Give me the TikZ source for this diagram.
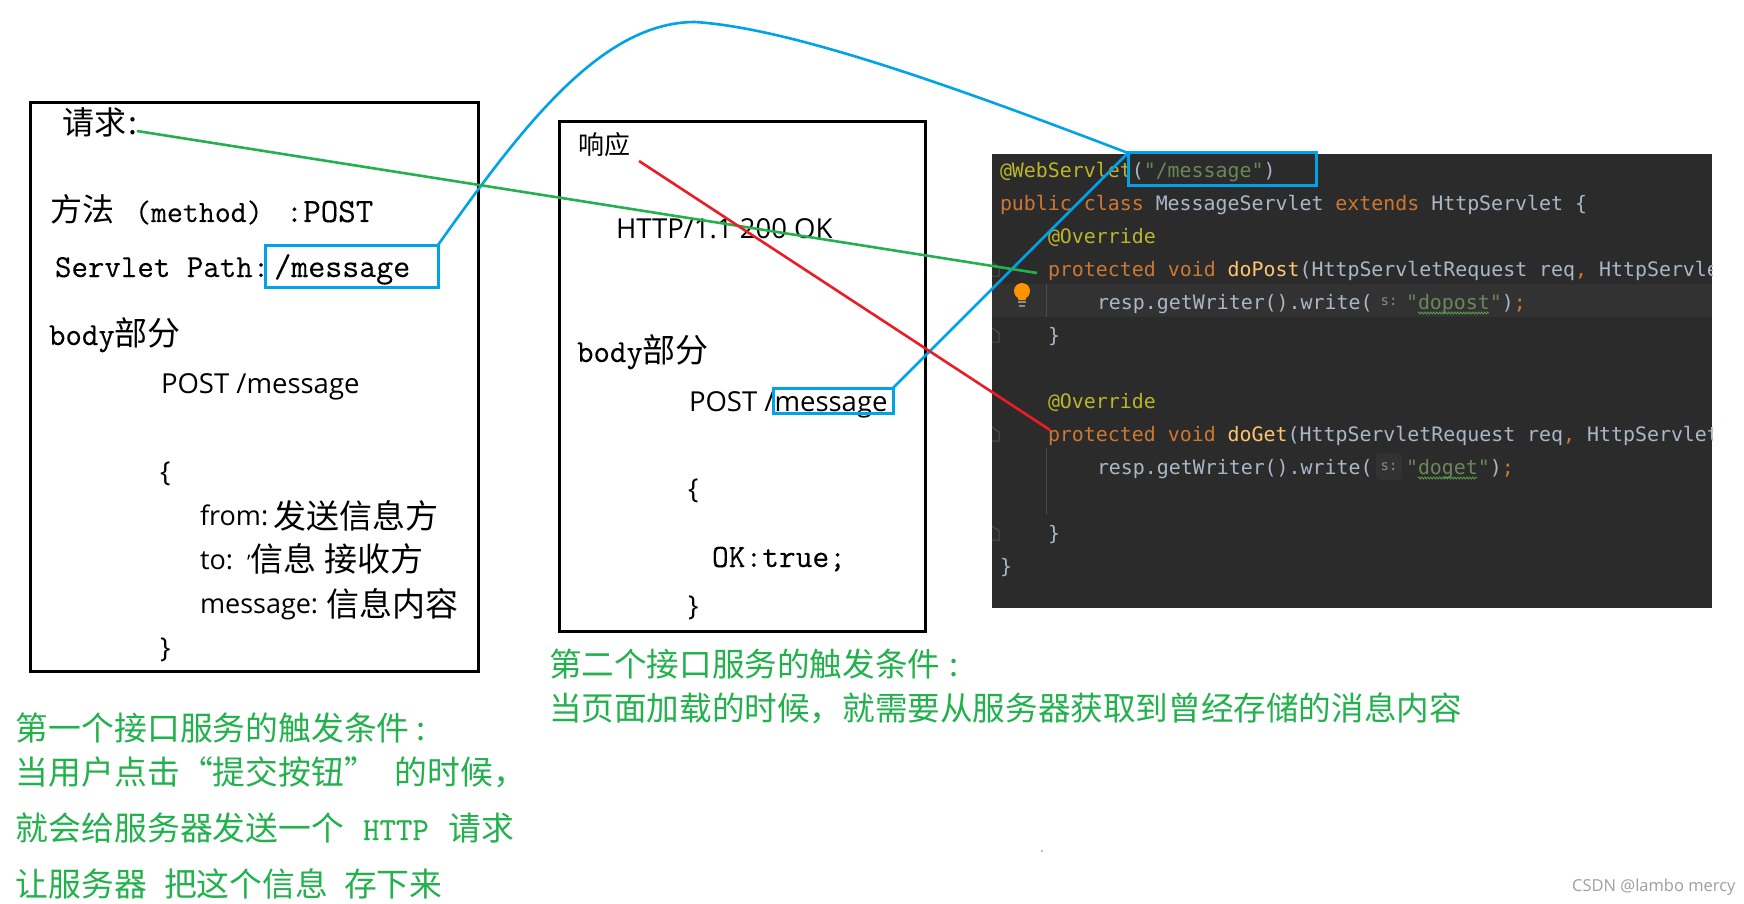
\documentclass[tikz,border=0pt]{standalone}
\usepackage{fontspec}
\usetikzlibrary{decorations.pathmorphing}
\setmainfont{Open Sans}
\newfontfamily\cjk{Noto Sans CJK SC}
\newfontfamily\code{DejaVu Sans Mono}
\newfontfamily\tfb[FakeBold=0.25]{Latin Modern Mono}
\definecolor{panelbg}{HTML}{2B2B2B}
\definecolor{rowbg}{HTML}{323232}
\definecolor{anno}{HTML}{BBB529}
\definecolor{kw}{HTML}{CC7832}
\definecolor{meth}{HTML}{FFC66D}
\definecolor{plain}{HTML}{A9B7C6}
\definecolor{strg}{HTML}{6A8759}
\definecolor{mblue}{HTML}{00A2E8}
\definecolor{mgreen}{HTML}{22B14C}
\definecolor{mred}{HTML}{ED1C24}
\definecolor{ngreen}{HTML}{22B14C}
\newcommand{\tw}[2]{{\tfb\fontsize{#1}{#1}\selectfont #2}}
\newcommand{\cj}[2]{{\cjk\fontsize{#1}{#1}\selectfont #2}}
\newcommand{\sa}[2]{{\fontsize{#1}{#1}\selectfont #2}}
\newcommand{\fwcomma}{\symbol{"FF0C}}
\tikzset{
  x=1pt,y=-1pt,
  txt/.style={anchor=base west,inner sep=0pt,outer sep=0pt,text=black},
  note/.style={txt,text=ngreen},
  cd/.style={anchor=base west,inner sep=0pt,outer sep=0pt,text=plain,font=\code\fontsize{19.9}{24}\selectfont},
  framebox/.style={draw=black,line width=3pt,inner sep=0pt,outer sep=0pt},
  bluebox/.style={draw=mblue,line width=3pt,inner sep=0pt,outer sep=0pt},
  bluelink/.style={draw=mblue,line width=2.6pt},
  greenlink/.style={draw=mgreen,line width=2.6pt},
  redlink/.style={draw=mred,line width=2.6pt},
  fold/.style={draw=black!65!white,draw opacity=.8,line width=1pt},
  hint/.style={fill=rowbg,rounded corners=4pt,minimum width=26pt,minimum height=27pt,inner sep=0pt,outer sep=0pt,text=black!45!white,font=\code\fontsize{14}{14}\selectfont},
  squig/.style={draw=strg!80!green,line width=.8pt,decorate,decoration={zigzag,segment length=3pt,amplitude=1pt}}
}
\begin{document}
\begin{tikzpicture}
\useasboundingbox (0,0) rectangle (1744,904);
% frames
\node[framebox,minimum width=448pt,minimum height=568pt] (reqframe) at (254,387) {};
\node[framebox,minimum width=366pt,minimum height=509pt] (respframe) at (742,376.5) {};
% panel
\node[fill=panelbg,inner sep=0pt,outer sep=0pt,minimum width=720pt,minimum height=454pt] (panel) at (1352,381) {};
\fill[rowbg] (992,284) rectangle (1712,317);
\draw[black!60!white,draw opacity=.5,line width=1pt] (1046,284) -- (1046,317);
\draw[black!60!white,draw opacity=.5,line width=1pt] (1046,448) -- (1046,515);
\begin{scope}
\clip (992,154) rectangle (1712,608);
\node[cd] (l1) at (1000,178) {\textcolor{anno}{@WebServlet}(\textcolor{strg}{"/message"})};
\node[cd] (l2) at (1000,210) {\textcolor{kw}{public class} MessageServlet \textcolor{kw}{extends} HttpServlet \{};
\node[cd] (l3) at (1048,243) {\textcolor{anno}{@Override}};
\node[cd] (l4) at (1048,276) {\textcolor{kw}{protected void} \textcolor{meth}{doPost}(HttpServletRequest req\textcolor{kw}{,} HttpServle};
\node[cd] (l5) at (1097,309) {resp.getWriter().write(};
\node[hint] (h1) at (1389,301.5) {s:};
\node[cd] (l5b) at (1406,309) {\textcolor{strg}{"dopost"})\textcolor{kw}{;}};
\node[cd] (l6) at (1048,342) {\}};
\node[cd] (l7) at (1048,408) {\textcolor{anno}{@Override}};
\node[cd] (l8) at (1048,441) {\textcolor{kw}{protected void} \textcolor{meth}{doGet}(HttpServletRequest req\textcolor{kw}{,} HttpServlet};
\node[cd] (l9) at (1097,474) {resp.getWriter().write(};
\node[hint] (h2) at (1389,466.5) {s:};
\node[cd] (l9b) at (1406,474) {\textcolor{strg}{"doget"})\textcolor{kw}{;}};
\node[cd] (l10) at (1048,540) {\}};
\node[cd] (l11) at (1000,573) {\}};
\path[squig] (1418,313) -- (1489,313);
\path[squig] (1418,478) -- (1477,478);
\foreach \yy in {269,335,434,533}{
  \draw[fold] (992,\yy-7) -- (999,\yy-2) -- (999,\yy+7) -- (992,\yy+7);
}
\end{scope}
% bulb
\fill[black!45!white] (1018,301) rectangle (1026,303);
\fill[black!45!white] (1019,304.5) rectangle (1025,306.5);
\fill[orange!85!yellow] (1022,291) circle (8pt);
\fill[orange!85!yellow] (1017,295) -- (1027,295) -- (1025.5,300) -- (1018.5,300) -- cycle;
% left frame text
\node[txt] (t1) at (62,135) {\cj{32}{请求\hspace*{3pt}:}};
\node[txt] (t2) at (50,222) {\cj{32}{方法}\hspace*{21pt}\tw{31}{(method)}\hspace*{23pt}\tw{34}{:POST}};
\node[txt] (t3) at (55,277) {\tw{32}{Servlet Path:}\hspace*{5pt}\tw{33}{/message}};
\node[txt] (t4) at (49,345) {\tw{32}{body}\cj{33}{部分}};
\node[txt] (t5) at (161,393) {\sa{27.5}{POST /message}};
\node[txt] (t6) at (160,481) {\sa{27.5}{\{}};
\node[txt] (t7) at (200,525) {\sa{27}{from:}\hspace*{5pt}\raisebox{-3pt}{\cj{33}{发送信息方}}};
\node[txt] (t8) at (200,569) {\sa{27}{to:}\hspace*{14pt}\sa{20}{'}\raisebox{-2pt}{\cj{33}{信息}}\hspace*{8pt}\raisebox{-2pt}{\cj{33}{接收方}}};
\node[txt] (t9) at (200,613) {\sa{27}{message:}\hspace*{8pt}\raisebox{-3pt}{\cj{33}{信息内容}}};
\node[txt] (t10) at (160,657) {\sa{27.5}{\}}};
% right frame text
\node[txt] (r1) at (578,155) {\cj{26}{响应}};
\node[txt] (r2) at (616,238) {\sa{27.5}{HTTP/1.1 200 OK}};
\node[txt] (r3) at (577,362) {\tw{32}{body}\cj{33}{部分}};
\node[txt] (r4) at (689,411) {\sa{27.5}{POST /message}};
\node[txt] (r5) at (688,498) {\sa{27.5}{\{}};
\node[txt] (r6) at (712,567) {\tw{32.5}{OK:true;}};
\node[txt] (r7) at (688,615) {\sa{27.5}{\}}};
% green notes
\node[note] (n1) at (16,740) {\cj{32.8}{第一个接口服务的触发条件\hspace*{7pt}:}};
\node[note] (n2) at (16,784) {\cj{32.8}{当用户点击“提交按钮”\hspace*{18pt}的时候\fwcomma}};
\node[note] (n3) at (16,840) {\cj{32.8}{就会给服务器发送一个}\hspace*{19pt}\tw{32}{HTTP}\hspace*{20pt}\cj{32.8}{请求}};
\node[note] (n4) at (16,896) {\cj{32.8}{让服务器}\hspace*{17pt}\cj{32.8}{把这个信息}\hspace*{16pt}\cj{32.8}{存下来}};
\node[note] (n5) at (549,676) {\cj{32.6}{第二个接口服务的触发条件\hspace*{9pt}:}};
\node[note] (n6) at (549,720) {\cj{32.6}{当页面加载的时候\fwcomma 就需要从服务器获取到曾经存储的消息内容}};
% watermark and speck
\node[anchor=base west,inner sep=0pt,text=black!38!white,font=\fontsize{16.5}{16.5}\selectfont] (wm) at (1572,891) {CSDN @lambo mercy};
\fill[black!50!white] (1042,851) circle (.8pt);
% blue boxes
\node[bluebox,minimum width=173pt,minimum height=42pt] (pathbox) at (351.5,266) {};
\node[bluebox,minimum width=120pt,minimum height=25pt] (msgbox) at (833,400.5) {};
\node[bluebox,minimum width=188pt,minimum height=33pt] (annobox) at (1222,169.5) {};
% connectors
\coordinate (reqend) at (137,131);
\coordinate (postend) at (1037,273);
\coordinate (respend) at (639,161);
\coordinate (getend) at (1050,430);
\draw[bluelink] (pathbox.north east) .. controls (520,130) and (600,22) .. (695,22) .. controls (790,28) and (950,85) .. (annobox.north west);
\draw[bluelink] (msgbox.north east) -- (annobox.north west);
\draw[greenlink] (reqend) -- (postend);
\draw[redlink] (respend) -- (getend);
\end{tikzpicture}
\end{document}
